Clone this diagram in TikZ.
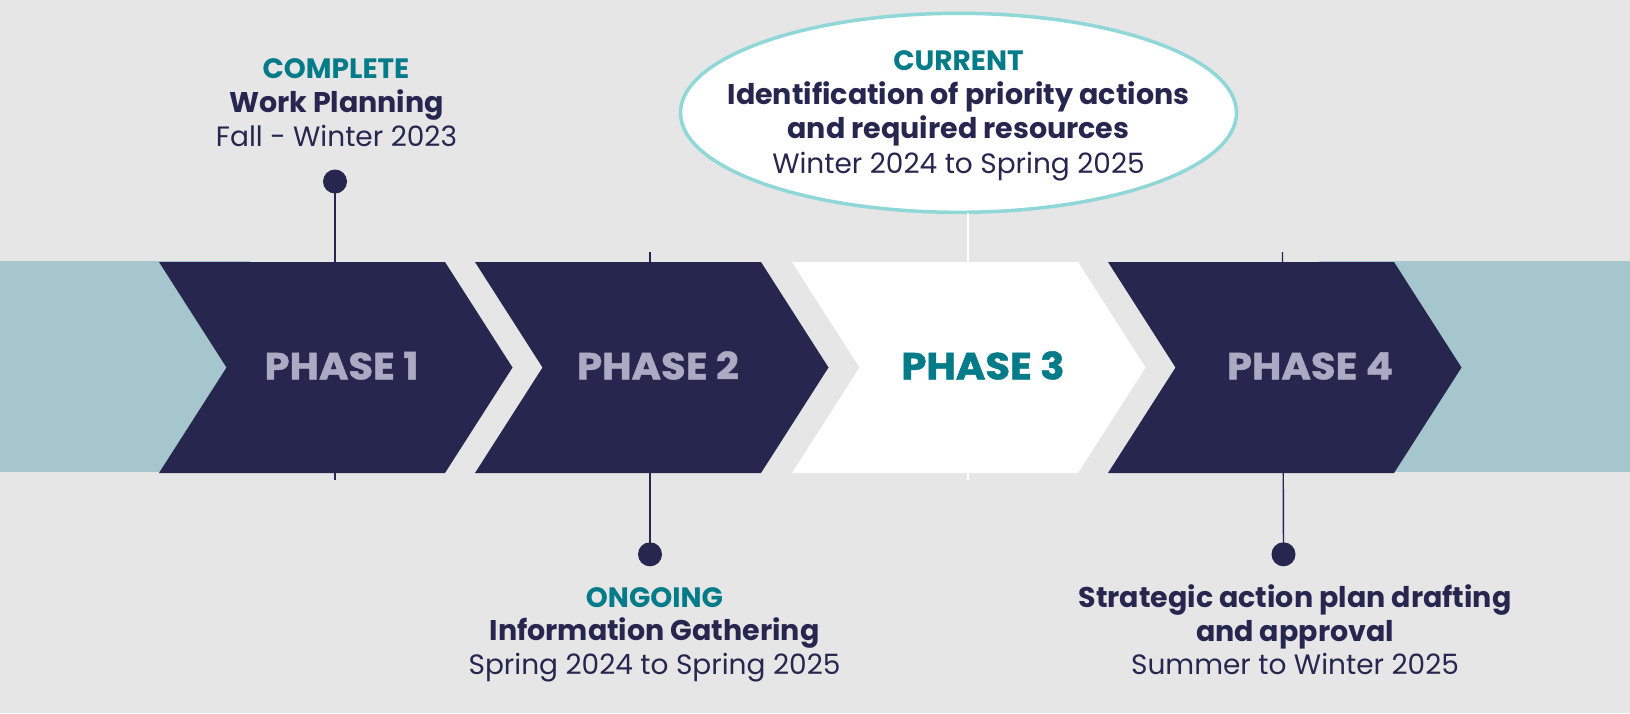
\documentclass[tikz,border=0pt]{standalone}
\usepackage{fontspec}
\setmainfont{Poppins}
\newfontfamily\phasefont{Poppins}[BoldFeatures={FakeBold=1.3,FakeStretch=1.07}]
\usetikzlibrary{shapes.geometric}
\definecolor{bg}{HTML}{E6E6E6}
\definecolor{navy}{HTML}{27264F}
\definecolor{band}{HTML}{A4C6CC}
\definecolor{tealtxt}{HTML}{037B88}
\definecolor{phasegray}{HTML}{AAAAC3}
\definecolor{ringc}{HTML}{90D8D8}
\tikzset{
  status/.style={anchor=base, inner sep=0pt, text=tealtxt, font=\fontsize{28}{34}\selectfont\bfseries},
  title/.style={anchor=base, inner sep=0pt, text=navy, font=\fontsize{28.5}{34}\selectfont\bfseries},
  period/.style={anchor=base, inner sep=0pt, text=navy, font=\fontsize{28}{34}\selectfont},
  phaselbl/.style={anchor=base, inner sep=0pt, text=phasegray, font=\phasefont\fontsize{37.5}{40}\selectfont\bfseries},
  pin/.style={circle, fill=navy, inner sep=0pt, minimum size=24pt},
  pinline/.style={draw=navy, line width=1.4pt},
  chevdark/.style={fill=navy},
  chevlight/.style={fill=white},
}
\begin{document}
\begin{tikzpicture}[x=1pt,y=-1pt]
\fill[bg] (0,0) rectangle (1630,713);
\useasboundingbox (0,0) rectangle (1630,713);
% band
\fill[band] (0,261) rectangle (250,472);
\fill[band] (1319,261) rectangle (1630,472);
% pins
\node[pin] (p1) at (335,181.5) {};
\node[pin] (p2) at (650,554.3) {};
\node[pin] (p4) at (1283.5,554.3) {};
\coordinate (p1e) at (335,480);
\coordinate (p2e) at (650,252);
\coordinate (p4e) at (1282.5,252);
\draw[pinline] (p1.center) -- (p1e);
\draw[pinline] (p2.center) -- (p2e);
\draw[pinline] (p4.center) -- (p4e);
% current ellipse
\node[ellipse, draw=ringc, fill=white, line width=3.5pt, minimum width=556pt, minimum height=199pt, inner sep=0pt] (cur) at (958.5,112.8) {};
\coordinate (p3e) at (968,480);
\draw[white, line width=1.4pt] (968,213) -- (p3e);
% chevrons
\foreach \L/\sty in {159/chevdark, 475/chevdark, 792/chevlight, 1108/chevdark}{
  \fill[\sty] (\L,262) -- (\L+286,262) -- (\L+353.5,367.5) -- (\L+286,473) -- (\L,473) -- (\L+67.5,367.5) -- cycle;
}
% phase labels
\node[phaselbl] (ph1) at (341.5,379.3) {PHASE 1};
\node[phaselbl] (ph2) at (658,379.3) {PHASE 2};
\node[phaselbl, text=tealtxt] (ph3) at (983,379.3) {PHASE 3};
\node[phaselbl] (ph4) at (1310,379.3) {PHASE 4};
% phase 1 label
\node[status] (s1) at (336,78.3) {COMPLETE};
\node[title] (t1) at (336.5,112.6) {Work Planning};
\node[period] (d1) at (336.5,146.7) {Fall - Winter 2023};
% phase 3 label
\node[status] (s3) at (958.5,70.7) {CURRENT};
\node[title] (t3a) at (958.5,104.5) {Identification of priority actions};
\node[title] (t3b) at (958.5,138.5) {and required resources};
\node[period] (d3) at (958.5,173) {Winter 2024 to Spring 2025};
% phase 2 label
\node[status] (s2) at (654.5,607.3) {ONGOING};
\node[title] (t2) at (654.5,640.5) {Information Gathering};
\node[period] (d2) at (654.5,674) {Spring 2024 to Spring 2025};
% phase 4 label
\node[title] (t4a) at (1295,607.3) {Strategic action plan drafting};
\node[title] (t4b) at (1295,641) {and approval};
\node[period] (d4) at (1295,674) {Summer to Winter 2025};
\end{tikzpicture}
\end{document}
